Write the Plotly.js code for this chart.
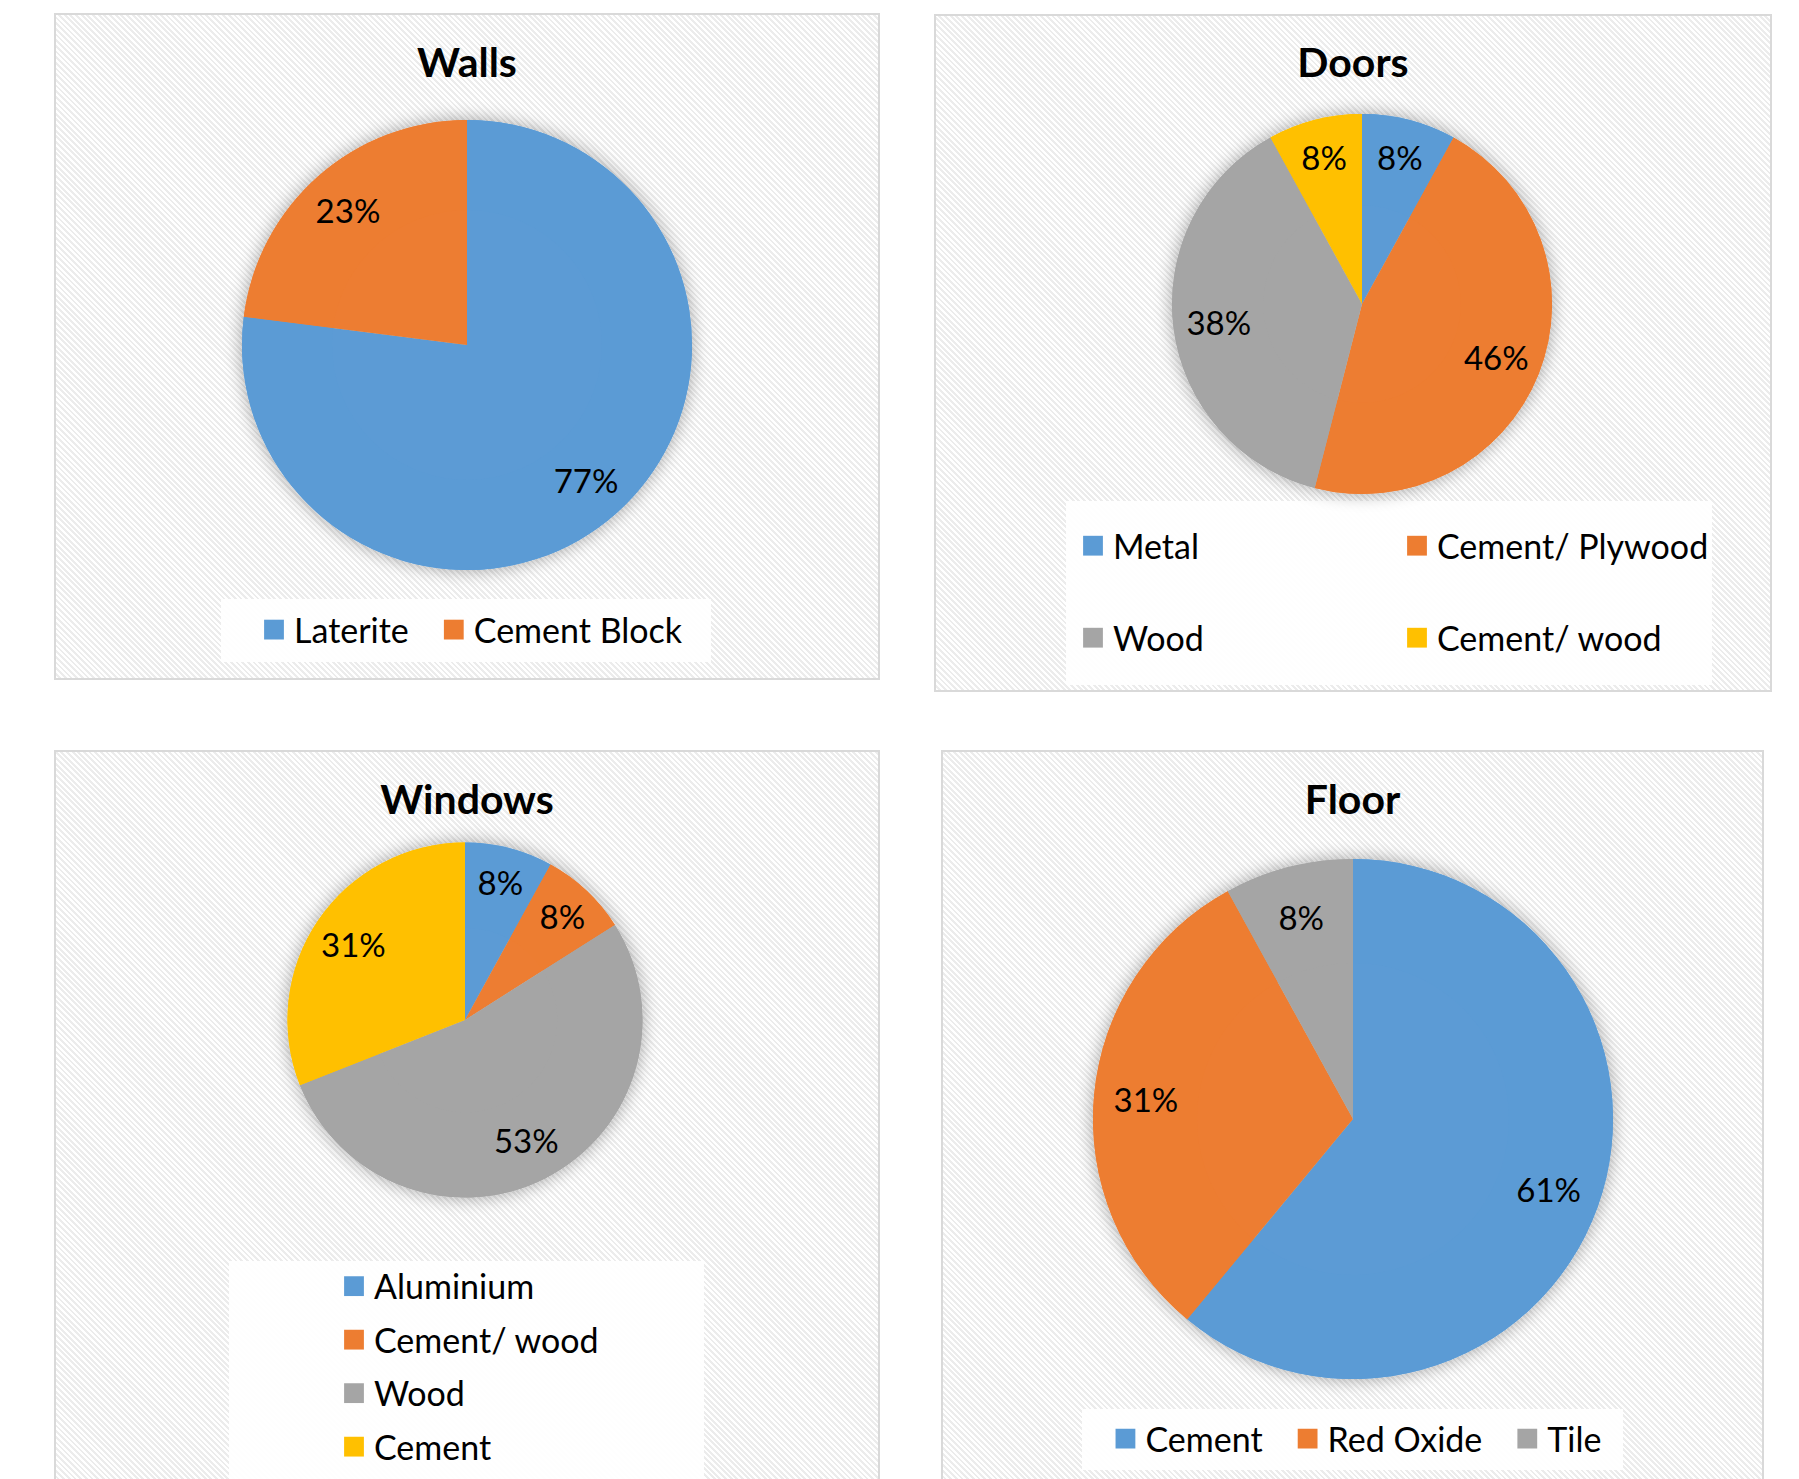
<!DOCTYPE html>
<html><head><meta charset="utf-8">
<script src="https://cdn.plot.ly/plotly-3.0.1.min.js"></script>
<style>
html,body{margin:0;padding:0;background:#fff;overflow:hidden;width:1799px;height:1479px;}
.panel{position:absolute;border:2px solid #d9d9d9;background-color:#fff;
  background-image:repeating-linear-gradient(45deg,#ffffff 0px,#ffffff 2px,#ececec 2px,#ececec 4px);}
.pielayer .trace:first-child{filter:url(#pieShadow);}
.legend path.legendpie{transform:translate(40px,0px) scale(1.65);}
</style></head>
<body>
<svg width="0" height="0" style="position:absolute">
  <defs>
    <filter id="pieShadow" x="-20%" y="-20%" width="140%" height="140%">
      <feGaussianBlur in="SourceAlpha" stdDeviation="9"/>
      <feComponentTransfer><feFuncA type="linear" slope="0.35"/></feComponentTransfer>
      <feMerge><feMergeNode/><feMergeNode in="SourceGraphic"/></feMerge>
    </filter>
  </defs>
</svg>
<div id="walls" class="panel" style="left:54px;top:13px;width:822px;height:663px"></div>
<div id="doors" class="panel" style="left:934px;top:14px;width:834px;height:674px"></div>
<div id="windows" class="panel" style="left:54px;top:750px;width:822px;height:740px"></div>
<div id="floor" class="panel" style="left:941px;top:750px;width:819px;height:740px"></div>
<script>
// ---- data ----
const wallsTitle = 'Walls';
const wallsLabels = ['Laterite', 'Cement Block'];
const wallsValues = [77, 23];

const doorsTitle = 'Doors';
const doorsLabels = ['Metal', 'Cement/ Plywood', 'Wood', 'Cement/ wood'];
const doorsValues = [8, 46, 38, 8];

const windowsTitle = 'Windows';
const windowsLabels = ['Aluminium', 'Cement/ wood', 'Wood', 'Cement'];
const windowsValues = [8, 8, 53, 31];

const floorTitle = 'Floor';
const floorLabels = ['Cement', 'Red Oxide', 'Tile'];
const floorValues = [61, 31, 8];

const BLUE = '#5B9BD5', ORANGE = '#ED7D31', GRAY = '#A5A5A5', YELLOW = '#FFC000';
const FONT = 'Lato, "Open Sans", "Noto Sans", sans-serif';

// add extra spacing between legend rows (keeps the block centred)
function spreadLegendRows(gd, extra) {
  if (!extra) return;
  const items = Array.from(gd.querySelectorAll('.legend .traces'));
  const parsed = items.map(el => {
    const m = /translate\(\s*([-\d.e]+)[ ,]+([-\d.e]+)\s*\)/.exec(el.getAttribute('transform') || '');
    return m ? {el: el, x: +m[1], y: +m[2]} : null;
  }).filter(Boolean);
  const rows = Array.from(new Set(parsed.map(p => Math.round(p.y)))).sort((a, b) => a - b);
  const shift = -(rows.length - 1) * extra / 2;
  parsed.forEach(p => {
    const idx = rows.indexOf(Math.round(p.y));
    p.el.setAttribute('transform', 'translate(' + p.x + ',' + (p.y + idx * extra + shift) + ')');
  });
  gd.querySelectorAll('.legend .scrollbox').forEach(s => s.removeAttribute('clip-path'));
}

function makePanel(id, title, labels, values, colors, c) {
  const W = c.W, H = c.H;
  const domain = {
    x: [(c.cx - c.r) / W, (c.cx + c.r) / W],
    y: [1 - (c.cy + c.r) / H, 1 - (c.cy - c.r) / H]
  };
  const base = {
    type: 'pie', labels: labels, values: values, sort: false,
    direction: 'clockwise', rotation: 0, domain: domain,
    marker: {colors: colors, line: {width: 0}}, hoverinfo: 'skip'
  };
  const fill = Object.assign({}, base, {textinfo: 'none', showlegend: true});
  const text = Object.assign({}, base, {
    hole: c.hole, showlegend: false,
    textinfo: 'percent', texttemplate: '%{percent:.0%}',
    textposition: 'inside', insidetextorientation: 'horizontal',
    insidetextfont: {family: FONT, size: 33, color: '#000'}
  });
  const legend = Object.assign({
    font: {family: FONT, size: 34, color: '#000'},
    bgcolor: 'rgba(0,0,0,0)', borderwidth: 0, itemwidth: 50,
    traceorder: 'normal'
  }, c.legend);
  const layout = {
    width: W, height: H,
    margin: {l: 0, r: 0, t: 0, b: 0},
    paper_bgcolor: 'rgba(0,0,0,0)', plot_bgcolor: 'rgba(0,0,0,0)',
    title: {text: title, x: 0.5, xanchor: 'center', y: 1 - c.ty / H, yanchor: 'middle',
            font: {family: FONT, size: 41, weight: 'bold', color: '#000'}},
    showlegend: true,
    legend: legend,
    shapes: [{type: 'rect', xref: 'paper', yref: 'paper', layer: 'below',
              x0: c.box[0] / W, x1: c.box[1] / W, y0: 1 - c.box[3] / H, y1: 1 - c.box[2] / H,
              fillcolor: 'rgba(255,255,255,0.92)', line: {width: 0}}]
  };
  Plotly.newPlot(id, [fill, text], layout, {staticPlot: true, displayModeBar: false})
    .then(gd => spreadLegendRows(gd, c.rowExtra));
}

makePanel('walls', wallsTitle, wallsLabels, wallsValues, [BLUE, ORANGE], {
  W: 822, H: 663, cx: 411, cy: 330, r: 225, ty: 48, hole: 0.6, rowExtra: 0,
  box: [165, 655, 584, 647],
  legend: {orientation: 'h', x: 0.4927, xanchor: 'center', y: 1 - 615 / 663, yanchor: 'middle'}
});
makePanel('doors', doorsTitle, doorsLabels, doorsValues, [BLUE, ORANGE, GRAY, YELLOW], {
  W: 834, H: 674, cx: 426, cy: 288, r: 190, ty: 47, hole: 0.52, rowExtra: 44.8,
  box: [130, 776, 485, 669],
  legend: {orientation: 'h', entrywidth: 259, entrywidthmode: 'pixels',
           x: 117 / 834, xanchor: 'left', y: 1 - 576 / 674, yanchor: 'middle'}
});
makePanel('windows', windowsTitle, windowsLabels, windowsValues, [BLUE, ORANGE, GRAY, YELLOW], {
  W: 822, H: 740, cx: 409, cy: 268, r: 177.5, ty: 48, hole: 0.52, rowExtra: 6.3,
  box: [173, 648, 509, 745],
  legend: {orientation: 'v', x: 258 / 822, xanchor: 'left', y: 1 - 614.5 / 740, yanchor: 'middle'}
});
makePanel('floor', floorTitle, floorLabels, floorValues, [BLUE, ORANGE, GRAY], {
  W: 819, H: 740, cx: 410, cy: 367, r: 260, ty: 48, hole: 0.6, rowExtra: 0,
  box: [139, 680, 657, 718],
  legend: {orientation: 'h', x: 0.492, xanchor: 'center', y: 1 - 687 / 740, yanchor: 'middle'}
});
</script>
</body></html>
